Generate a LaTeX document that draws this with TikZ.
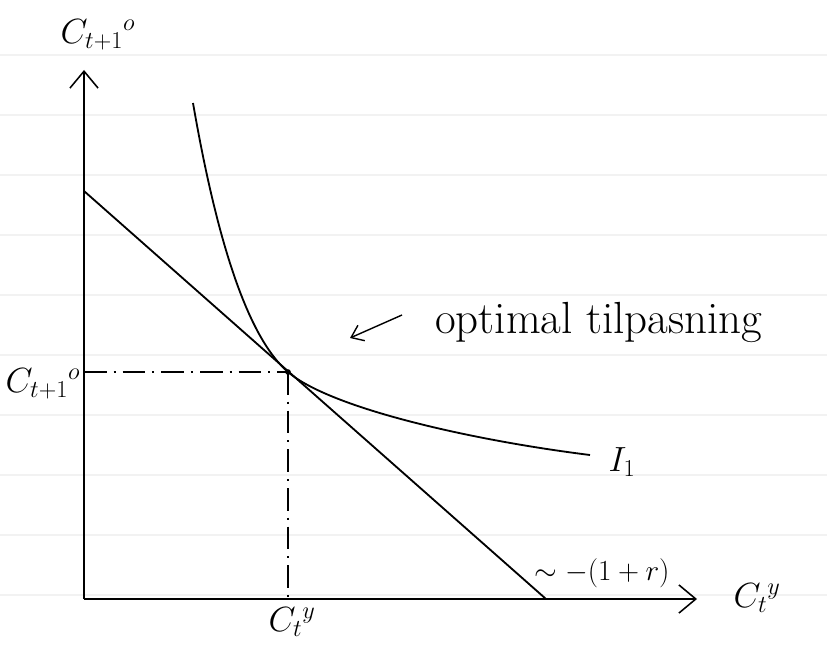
\documentclass[tikz,border=0pt]{standalone}
\usetikzlibrary{arrows.meta}
\begin{document}
\begin{tikzpicture}[x=0.025cm,y=-0.025cm,
  axis/.style={line width=1.3pt,-{Straight Barb[length=12pt,width=20pt,line width=1.1pt]}},
  curve/.style={line width=1.3pt},
  guide/.style={line width=1pt,dash pattern=on 16pt off 5pt on 1.5pt off 5pt},
  lab/.style={font=\fontsize{24}{26}\selectfont,inner sep=0pt}]
\useasboundingbox (0,0) rectangle (827,644);
% ruled paper
\foreach \y in {55,115,...,595}
  \draw[black!5,line width=0.8pt] (0,\y) -- (827,\y);

\coordinate (O) at (84,599);
\coordinate (ytop) at (84,70);
\coordinate (xend) at (697,599);
\coordinate (B0) at (84,191);
\coordinate (B1) at (546,599);
\coordinate (E) at (288,372);
\coordinate (Itop) at (193,103);
\coordinate (Iend) at (590,455);
\coordinate (Ey) at (84,372);
\coordinate (Ex) at (288,599);
\coordinate (optarr) at (350,338);

\draw[axis] (O) -- (ytop);
\draw[axis] (O) -- (xend);
\draw[curve] (B0) -- (B1);
\draw[curve] (Itop) .. controls (215,230) and (245,335) .. (E)
  .. controls (330,408) and (470,440) .. (Iend);
\draw[guide] (Ey) -- (E);
\draw[guide] (E) -- (Ex);
\fill (E) circle (2pt);

\node[lab] (ylab) at (98,35) {$C_{t+1}{}^{o}$};
\node[lab,font=\fontsize{23}{25}\selectfont] (yval) at (43,384) {$C_{t+1}{}^{o}$};
\node[lab] (xval) at (292,622) {$C_t{}^{y}$};
\node[lab] (xlab) at (757,598) {$C_t{}^{y}$};
\node[lab] (ic) at (622,462) {$I_1$};
\node[lab,font=\fontsize{20}{22}\selectfont] (slope) at (602,573) {$\sim -(1+r)$};
\node[lab,font=\fontsize{32}{34}\selectfont,anchor=west] (opt) at (435,322) {optimal tilpasning};
\draw[line width=1pt,-{Straight Barb[length=8pt,width=12pt]}]
  ([shift={(-33,-7)}]opt.west) -- (optarr);
\end{tikzpicture}
\end{document}
